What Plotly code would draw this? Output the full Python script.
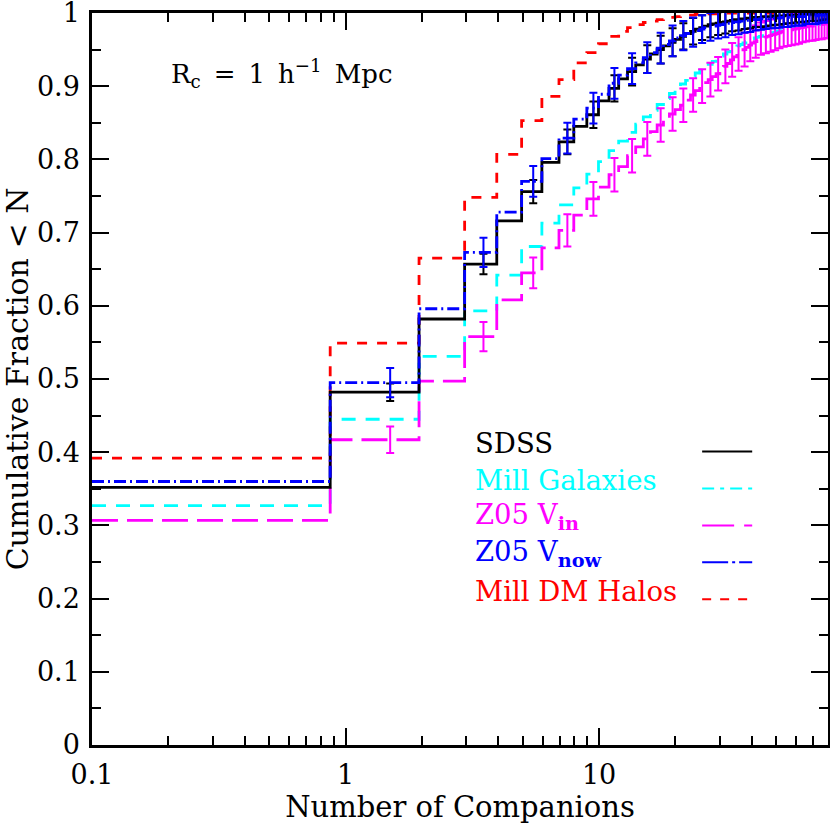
import numpy as np
import plotly.graph_objects as go

# number of companions (bins), step edge positions on the log axis
n_comp = np.arange(80)
first_step_x = 0.87
step_shift = 0.05
x_max = 80

# cumulative fractions, one value per bin N = 0..79
sdss = [0.352, 0.482, 0.582, 0.657, 0.716, 0.756, 0.796, 0.824, 0.845, 0.861,
        0.880, 0.897, 0.910, 0.920, 0.929, 0.937, 0.944, 0.950, 0.955, 0.960,
        0.964, 0.968, 0.972, 0.975, 0.978, 0.980, 0.982, 0.984, 0.985, 0.986,
        0.987, 0.988, 0.989, 0.990, 0.991, 0.991, 0.992, 0.992, 0.993, 0.993,
        0.993, 0.994, 0.994, 0.994, 0.995, 0.995, 0.995, 0.995, 0.996, 0.996,
        0.996, 0.996, 0.996, 0.996, 0.997, 0.997, 0.997, 0.997, 0.997, 0.997,
        0.997, 0.997, 0.998, 0.998, 0.998, 0.998, 0.998, 0.998, 0.998, 0.998,
        0.998, 0.998, 0.998, 0.998, 0.999, 0.999, 0.999, 0.999, 0.999, 0.999]

mill_gal = [0.327, 0.445, 0.531, 0.593, 0.642, 0.681, 0.713, 0.738, 0.761, 0.780,
            0.797, 0.812, 0.825, 0.837, 0.848, 0.858, 0.867, 0.875, 0.883, 0.890,
            0.897, 0.903, 0.908, 0.913, 0.918, 0.922, 0.926, 0.930, 0.934, 0.938,
            0.941, 0.944, 0.947, 0.950, 0.953, 0.955, 0.957, 0.959, 0.961, 0.963,
            0.965, 0.966, 0.967, 0.968, 0.969, 0.970, 0.971, 0.972, 0.973, 0.974,
            0.975, 0.975, 0.976, 0.977, 0.977, 0.978, 0.978, 0.979, 0.979, 0.980,
            0.980, 0.981, 0.981, 0.981, 0.982, 0.982, 0.982, 0.983, 0.983, 0.983,
            0.984, 0.984, 0.984, 0.984, 0.985, 0.985, 0.985, 0.985, 0.986, 0.986]

z05_vin = [0.307, 0.417, 0.497, 0.558, 0.608, 0.645, 0.679, 0.703, 0.724, 0.746,
           0.762, 0.779, 0.790, 0.805, 0.817, 0.828, 0.838, 0.847, 0.855, 0.862,
           0.868, 0.874, 0.881, 0.888, 0.894, 0.900, 0.905, 0.909, 0.913, 0.917,
           0.922, 0.927, 0.931, 0.936, 0.940, 0.944, 0.947, 0.950, 0.953, 0.956,
           0.959, 0.961, 0.963, 0.965, 0.966, 0.967, 0.968, 0.969, 0.970, 0.971,
           0.972, 0.973, 0.974, 0.975, 0.975, 0.976, 0.977, 0.977, 0.978, 0.978,
           0.979, 0.979, 0.980, 0.980, 0.981, 0.981, 0.981, 0.982, 0.982, 0.982,
           0.983, 0.983, 0.983, 0.984, 0.984, 0.984, 0.985, 0.985, 0.985, 0.986]

z05_vnow = [0.360, 0.495, 0.596, 0.673, 0.728, 0.770, 0.801, 0.829, 0.855, 0.870,
            0.889, 0.904, 0.915, 0.924, 0.932, 0.939, 0.946, 0.952, 0.957, 0.962,
            0.966, 0.969, 0.972, 0.974, 0.976, 0.978, 0.980, 0.981, 0.982, 0.983,
            0.984, 0.985, 0.986, 0.987, 0.988, 0.988, 0.989, 0.989, 0.990, 0.990,
            0.991, 0.991, 0.991, 0.992, 0.992, 0.992, 0.992, 0.993, 0.993, 0.993,
            0.993, 0.993, 0.994, 0.994, 0.994, 0.994, 0.994, 0.994, 0.995, 0.995,
            0.995, 0.995, 0.995, 0.995, 0.995, 0.996, 0.996, 0.996, 0.996, 0.996,
            0.996, 0.996, 0.996, 0.997, 0.997, 0.997, 0.997, 0.997, 0.997, 0.997]

dm_halos = [0.392, 0.549, 0.665, 0.748, 0.807, 0.853, 0.886, 0.909, 0.932, 0.946,
            0.958, 0.968, 0.975, 0.980, 0.984, 0.987, 0.989, 0.991, 0.993, 0.994,
            0.995, 0.996, 0.997, 0.997, 0.998, 0.998, 0.999, 0.999, 0.999, 0.999,
            0.999, 0.999, 1.000, 1.000, 1.000, 1.000, 1.000, 1.000, 1.000, 1.000,
            1.000, 1.000, 1.000, 1.000, 1.000, 1.000, 1.000, 1.000, 1.000, 1.000,
            1.000, 1.000, 1.000, 1.000, 1.000, 1.000, 1.000, 1.000, 1.000, 1.000,
            1.000, 1.000, 1.000, 1.000, 1.000, 1.000, 1.000, 1.000, 1.000, 1.000,
            1.000, 1.000, 1.000, 1.000, 1.000, 1.000, 1.000, 1.000, 1.000, 1.000]

# error bar half-widths, drawn on odd bins N = 1, 3, ..., 79
sdss_err = [0.012, 0.014, 0.016, 0.017, 0.018, 0.018, 0.019, 0.019, 0.019, 0.019,
            0.018, 0.018, 0.017, 0.017, 0.016, 0.016, 0.015, 0.015, 0.014, 0.014,
            0.013, 0.013, 0.013, 0.012, 0.012, 0.012, 0.011, 0.011, 0.011, 0.010,
            0.010, 0.010, 0.010, 0.009, 0.009, 0.009, 0.009, 0.009, 0.008, 0.008]
vnow_err = [0.020, 0.020, 0.021, 0.021, 0.021, 0.021, 0.021, 0.021, 0.021, 0.021,
            0.020, 0.020, 0.019, 0.019, 0.018, 0.018, 0.017, 0.017, 0.016, 0.016,
            0.015, 0.015, 0.014, 0.014, 0.014, 0.013, 0.013, 0.013, 0.012, 0.012,
            0.012, 0.012, 0.011, 0.011, 0.011, 0.011, 0.011, 0.010, 0.010, 0.010]
vin_err = [0.018, 0.020, 0.021, 0.022, 0.023, 0.023, 0.023, 0.023, 0.023, 0.023,
           0.023, 0.023, 0.023, 0.023, 0.023, 0.023, 0.023, 0.023, 0.023, 0.022,
           0.022, 0.022, 0.022, 0.022, 0.022, 0.021, 0.021, 0.021, 0.021, 0.021,
           0.021, 0.020, 0.020, 0.020, 0.020, 0.020, 0.020, 0.020, 0.020, 0.020]

FONT = "DejaVu Serif"

# step x positions: bin N starts at N - shift; bin 0 starts at the axis edge
step_x = n_comp - step_shift
step_x = step_x.astype(float)
step_x[0] = 0.1
step_x[1] = first_step_x
step_x = np.append(step_x, x_max)

odd = n_comp[1::2]
err_x = odd + 0.5

series = [
    # name, values, color, dash, errors
    ("Mill DM Halos", dm_halos, "#ff0000", "10px,10px", None),
    ("Mill Galaxies", mill_gal, "#00ffff", "14px,10px", None),
    ("Z05 V<sub><b>in</b></sub>", z05_vin, "#ff00ff", "26px,9px", vin_err),
    ("SDSS", sdss, "#000000", "solid", sdss_err),
    ("Z05 V<sub><b>now</b></sub>", z05_vnow, "#0000ff", "12px,4px,2px,4px", vnow_err),
]

fig = go.Figure()
for name, vals, color, dash, errs in series:
    yv = np.append(vals, vals[-1])
    fig.add_trace(go.Scatter(x=step_x, y=yv, mode="lines", line_shape="hv",
                             line=dict(color=color, width=2.8, dash=dash),
                             showlegend=False, hoverinfo="skip"))
    if errs is not None:
        fig.add_trace(go.Scatter(x=err_x, y=np.array(vals)[odd], mode="markers",
                                 marker=dict(size=1, color=color, opacity=0),
                                 error_y=dict(type="data", array=errs, color=color,
                                              thickness=2, width=4),
                                 showlegend=False, hoverinfo="skip"))

# legend drawn by hand: text on the left, line sample on the right
legend_rows = [("SDSS", "#000000", "solid"),
               ("Mill Galaxies", "#00ffff", "12px,6px,4px,6px"),
               ("Z05 V<sub><b>in</b></sub>", "#ff00ff", "32px,10px,12px,10px"),
               ("Z05 V<sub><b>now</b></sub>", "#0000ff", "26px,4px,3px,4px"),
               ("Mill DM Halos", "#ff0000", "9px,9px")]
annotations = []
shapes = []
for i, (label, color, dash) in enumerate(legend_rows):
    ty = 0.413 - i * 0.0505
    annotations.append(dict(x=0.518, y=ty, xref="paper", yref="paper", text=label,
                            showarrow=False, xanchor="left", yanchor="middle",
                            font=dict(family=FONT, size=27.5, color=color)))
    ly = ty - 0.012
    shapes.append(dict(type="line", xref="paper", yref="paper", x0=0.829, x1=0.897,
                       y0=ly, y1=ly, line=dict(color=color, width=2, dash=dash)))

annotations.append(dict(x=0.104, y=0.917, xref="paper", yref="paper",
                        text="R<sub>c</sub>\u2002=\u20021\u2002h<sup>\u22121</sup>\u2002Mpc",
                        showarrow=False, xanchor="left", yanchor="middle",
                        font=dict(family=FONT, size=26, color="black")))

fig.update_layout(
    width=830, height=824,
    margin=dict(l=92, r=2, t=13, b=79),
    plot_bgcolor="white", paper_bgcolor="white",
    font=dict(family=FONT, size=26, color="black"),
    annotations=annotations, shapes=shapes,
    showlegend=False,
)

fig.update_xaxes(
    type="log", range=[-1, np.log10(x_max)], automargin=False,
    showline=True, linecolor="black", linewidth=2.5, mirror="ticks",
    ticks="inside", ticklen=17, tickwidth=2, tickcolor="black",
    tickvals=[0.1, 1, 10], ticktext=["0.1", "1", "10"],
    minor=dict(ticks="inside", ticklen=9, tickwidth=2, tickcolor="black",
               tickvals=[0.2, 0.3, 0.4, 0.5, 0.6, 0.7, 0.8, 0.9,
                         2, 3, 4, 5, 6, 7, 8, 9, 20, 30, 40, 50, 60, 70]),
    showgrid=False, zeroline=False, ticklabeloverflow="allow",
    tickfont=dict(family=FONT, size=27), ticklabelstandoff=4,
    title=dict(text="Number of Companions", font=dict(family=FONT, size=29), standoff=3),
)
fig.update_yaxes(
    range=[0, 1], automargin=False,
    showline=True, linecolor="black", linewidth=2.5, mirror="ticks",
    ticks="inside", ticklen=17, tickwidth=2, tickcolor="black",
    tickvals=[0, 0.1, 0.2, 0.3, 0.4, 0.5, 0.6, 0.7, 0.8, 0.9, 1],
    ticktext=["0", "0.1", "0.2", "0.3", "0.4", "0.5", "0.6", "0.7", "0.8", "0.9", "1"],
    minor=dict(ticks="inside", ticklen=9, tickwidth=2, tickcolor="black",
               tickvals=[0.05, 0.15, 0.25, 0.35, 0.45, 0.55, 0.65, 0.75, 0.85, 0.95]),
    showgrid=False, zeroline=False, ticklabeloverflow="allow",
    tickfont=dict(family=FONT, size=27), ticklabelstandoff=4,
    title=dict(text="Cumulative Fraction &lt; N", font=dict(family=FONT, size=30), standoff=2),
)

# the page body has a default margin; remove it so the figure sits at the corner
fig.write_html("out.html", config={"displayModeBar": False},
               post_script="document.body.style.margin='0';")
